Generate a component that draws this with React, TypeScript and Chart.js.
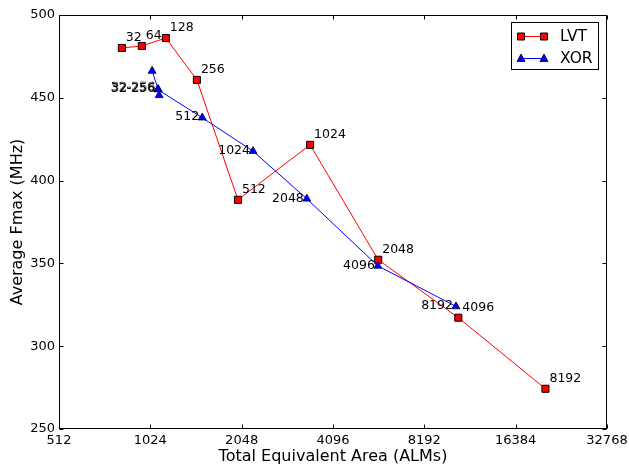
import React, { useEffect, useRef } from "react";
import { Chart, registerables } from "chart.js";

Chart.register(...registerables);

// ---- data ----
const xTickValues = [512, 1024, 2048, 4096, 8192, 16384, 32768];
const yTickValues = [250, 300, 350, 400, 450, 500];

const lvtArea = [825, 960, 1152, 1458, 1991, 3442, 5772, 10600, 20540];
const lvtFmax = [480.1, 481.3, 486.1, 460.8, 388.4, 421.6, 352.2, 317.2, 274.3];
const lvtLabels = ["32", "64", "128", "256", "512", "1024", "2048", "4096", "8192"];

const xorArea = [1038, 1087, 1095, 1083, 1518, 2232, 3357, 5756, 10415];
const xorFmax = [466.2, 455.2, 451.5, 455.0, 438.0, 417.8, 389.0, 348.5, 324.0];
const xorLabels = ["", "32-256", "", "", "512", "1024", "2048", "4096", "8192"];

const seriesNames = ["LVT", "XOR"];

const FONT = "'DejaVu Sans', 'Liberation Sans', sans-serif";

function drawMarker(ctx: CanvasRenderingContext2D, kind: string, x: number, y: number) {
  ctx.save();
  ctx.lineWidth = 1;
  ctx.strokeStyle = "#000000";
  if (kind === "rect") {
    ctx.fillStyle = "#ff0000";
    ctx.beginPath();
    ctx.rect(x - 3.5, y - 3.5, 7, 7);
    ctx.fill();
    ctx.stroke();
  } else {
    ctx.fillStyle = "#0000ff";
    ctx.lineWidth = 0.8;
    ctx.beginPath();
    ctx.moveTo(x, y - 4.5);
    ctx.lineTo(x + 4, y + 3);
    ctx.lineTo(x - 4, y + 3);
    ctx.closePath();
    ctx.fill();
    ctx.stroke();
  }
  ctx.restore();
}

const framePlugin = {
  id: "frameTicksLabels",
  afterDatasetsDraw(chart: any) {
    const ctx: CanvasRenderingContext2D = chart.ctx;
    const { left, right, top, bottom } = chart.chartArea;
    const xs = chart.scales.x;
    const ys = chart.scales.y;

    // point annotations
    ctx.save();
    ctx.fillStyle = "#000000";
    ctx.font = `12.5px ${FONT}`;
    const lvtMeta = chart.getDatasetMeta(0);
    lvtMeta.data.forEach((pt: any, i: number) => {
      const t = lvtLabels[i];
      if (!t) return;
      ctx.textAlign = "left";
      ctx.textBaseline = "middle";
      ctx.fillText(t, pt.x + 4, pt.y - 10);
    });
    const xorMeta = chart.getDatasetMeta(1);
    xorMeta.data.forEach((pt: any, i: number) => {
      const t = xorLabels[i];
      if (!t) return;
      ctx.textAlign = "right";
      ctx.textBaseline = "middle";
      if (t.indexOf("-") >= 0) {
        ctx.strokeStyle = "#000000";
        ctx.lineWidth = 0.6;
        ctx.strokeText(t, pt.x - 3, pt.y - 1.5);
      }
      ctx.fillText(t, pt.x - 3, pt.y - 0.5);
    });
    ctx.restore();

    // frame
    ctx.save();
    ctx.strokeStyle = "#000000";
    ctx.lineWidth = 1;
    const L = Math.round(left) + 0.5;
    const R = Math.round(right) - 0.5;
    const T = Math.round(top) + 0.5;
    const B = Math.round(bottom) - 0.5;
    ctx.strokeRect(L, T, R - L, B - T);
    // inward ticks
    ctx.beginPath();
    xTickValues.forEach((v) => {
      const px = Math.round(xs.getPixelForValue(v)) + 0.5;
      ctx.moveTo(px, B);
      ctx.lineTo(px, B - 4);
      ctx.moveTo(px, T);
      ctx.lineTo(px, T + 4);
    });
    yTickValues.forEach((v) => {
      const py = Math.round(ys.getPixelForValue(v)) + 0.5;
      ctx.moveTo(L, py);
      ctx.lineTo(L + 4, py);
      ctx.moveTo(R, py);
      ctx.lineTo(R - 4, py);
    });
    ctx.stroke();
    ctx.restore();

    // legend
    ctx.save();
    const bx = 511.5, by = 22.5, bw = 87, bh = 47;
    ctx.fillStyle = "#ffffff";
    ctx.fillRect(bx, by, bw, bh);
    ctx.strokeStyle = "#000000";
    ctx.lineWidth = 1;
    ctx.strokeRect(bx, by, bw, bh);
    const rows = [
      { name: seriesNames[0], color: "#ff0000", kind: "rect", y: 36 },
      { name: seriesNames[1], color: "#0000ff", kind: "triangle", y: 58 },
    ];
    rows.forEach((r) => {
      ctx.strokeStyle = r.color;
      ctx.lineWidth = 1;
      ctx.beginPath();
      ctx.moveTo(521, r.y + 0.5);
      ctx.lineTo(544, r.y + 0.5);
      ctx.stroke();
      drawMarker(ctx, r.kind, 521, r.y + 0.5);
      drawMarker(ctx, r.kind, 544, r.y + 0.5);
      ctx.fillStyle = "#000000";
      ctx.font = `15.5px ${FONT}`;
      ctx.textAlign = "left";
      ctx.textBaseline = "middle";
      ctx.fillText(r.name, 560, r.y + 1);
    });
    ctx.restore();
  },
};

export default function App() {
  const ref = useRef<HTMLCanvasElement | null>(null);

  useEffect(() => {
    if (!ref.current) return;
    const chart = new Chart(ref.current, {
      type: "line",
      data: {
        datasets: [
          {
            label: seriesNames[0],
            data: lvtArea.map((x, i) => ({ x, y: lvtFmax[i] })),
            borderColor: "#ff0000",
            borderWidth: 1,
            backgroundColor: "#ff0000",
            pointStyle: "rect",
            pointRadius: 5,
            pointBorderColor: "#000000",
            pointBorderWidth: 1,
            pointBackgroundColor: "#ff0000",
            tension: 0,
            order: 1,
          },
          {
            label: seriesNames[1],
            data: xorArea.map((x, i) => ({ x, y: xorFmax[i] })),
            borderColor: "#0000ff",
            borderWidth: 1,
            backgroundColor: "#0000ff",
            pointStyle: "triangle",
            pointRadius: 4.6,
            pointBorderColor: "#000033",
            pointBorderWidth: 0.8,
            pointBackgroundColor: "#0000ff",
            tension: 0,
            order: 0,
          },
        ],
      },
      options: {
        animation: false,
        responsive: false,
        maintainAspectRatio: false,
        layout: { padding: { top: 15, right: 22, bottom: 0, left: 0 } },
        plugins: {
          legend: { display: false },
          tooltip: { enabled: false },
        },
        scales: {
          x: {
            type: "logarithmic",
            min: 512,
            max: 32768,
            afterBuildTicks: (s: any) => {
              s.ticks = xTickValues.map((v) => ({ value: v }));
            },
            afterFit: (s: any) => {
              s.height = 37;
              s.paddingLeft = 0;
              s.paddingRight = 0;
            },
            grid: { display: false, drawTicks: false },
            border: { display: false },
            ticks: {
              autoSkip: false,
              maxRotation: 0,
              padding: 4,
              color: "#000000",
              font: { family: FONT, size: 13 },
              callback: (v: any) => String(v),
            },
            title: {
              display: true,
              text: "Total Equivalent Area (ALMs)",
              color: "#000000",
              font: { family: FONT, size: 16 },
              padding: { top: 0, bottom: 0 },
            },
          },
          y: {
            type: "linear",
            min: 250,
            max: 500,
            afterBuildTicks: (s: any) => {
              s.ticks = yTickValues.map((v) => ({ value: v }));
            },
            afterFit: (s: any) => {
              s.width = 59;
              s.paddingTop = 0;
              s.paddingBottom = 0;
            },
            grid: { display: false, drawTicks: false },
            border: { display: false },
            ticks: {
              padding: 4,
              color: "#000000",
              font: { family: FONT, size: 13 },
              callback: (v: any) => String(v),
            },
            title: {
              display: true,
              text: "Average Fmax (MHz)",
              color: "#000000",
              font: { family: FONT, size: 16 },
              padding: { top: 8, bottom: 0 },
            },
          },
        },
      },
      plugins: [framePlugin],
    } as any);
    return () => chart.destroy();
  }, []);

  return (
    <div style={{ position: "fixed", left: 0, top: 0, width: 629, height: 466, background: "#ffffff" }}>
      <canvas ref={ref} width={629} height={466} style={{ width: 629, height: 466, display: "block" }} />
    </div>
  );
}
